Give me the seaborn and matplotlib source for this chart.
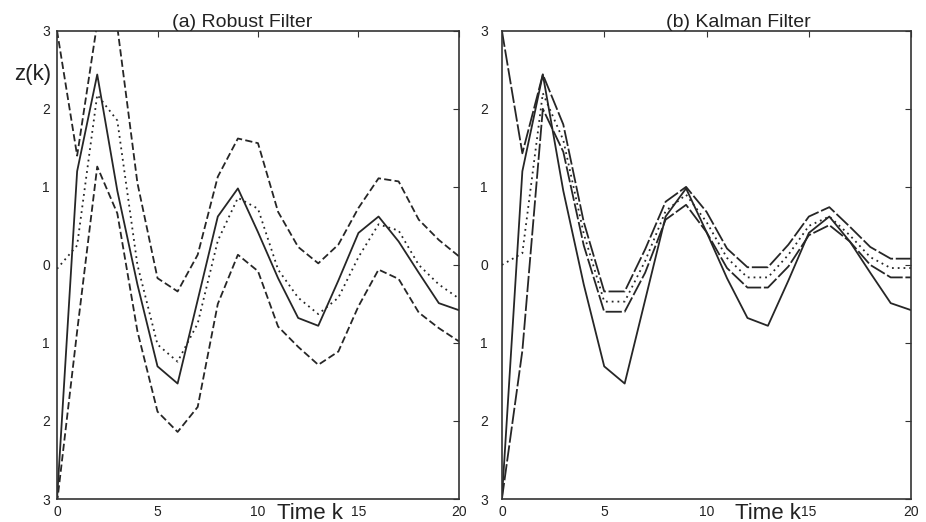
import numpy as np
import pandas as pd
import seaborn as sns
import matplotlib
matplotlib.use("Agg")
import matplotlib.pyplot as plt

sns.set_theme(style="white")
plt.rcParams["font.family"] = ["Liberation Sans", "DejaVu Sans"]

# time axis
k = list(range(21))

# true state z(k) (same in both panels)
z_true = [-3.0, 1.2, 2.44, 0.95, -0.25, -1.3, -1.52, -0.45, 0.62, 0.98, 0.42,
          -0.17, -0.68, -0.78, -0.2, 0.41, 0.62, 0.3, -0.1, -0.49, -0.58]

# (a) robust filter: estimate and bounds
rob_est = [-0.05, 0.25, 2.18, 1.85, 0.0, -1.02, -1.24, -0.75, 0.31, 0.86, 0.72,
           -0.06, -0.42, -0.63, -0.42, 0.1, 0.52, 0.44, 0.0, -0.25, -0.43]
rob_upper = [3.0, 1.4, 3.1, 3.05, 1.05, -0.17, -0.34, 0.13, 1.13, 1.62, 1.56,
             0.68, 0.23, 0.02, 0.26, 0.73, 1.11, 1.07, 0.58, 0.32, 0.11]
rob_lower = [-3.05, -0.85, 1.26, 0.66, -0.85, -1.88, -2.14, -1.82, -0.5, 0.13, -0.08,
             -0.79, -1.05, -1.28, -1.11, -0.53, -0.06, -0.18, -0.61, -0.81, -0.98]

# (b) kalman filter: estimate and bounds
kal_est = [0.0, 0.15, 2.2, 1.6, 0.4, -0.47, -0.47, 0.05, 0.69, 0.9, 0.55,
           0.09, -0.16, -0.16, 0.13, 0.5, 0.62, 0.38, 0.1, -0.04, -0.04]
kal_upper = [3.0, 1.43, 2.44, 1.8, 0.55, -0.34, -0.34, 0.2, 0.81, 1.0, 0.68,
             0.21, -0.03, -0.03, 0.26, 0.62, 0.74, 0.49, 0.23, 0.08, 0.08]
kal_lower = [-3.0, -1.1, 2.0, 1.45, 0.25, -0.6, -0.6, -0.1, 0.58, 0.77, 0.42,
             -0.04, -0.29, -0.29, -0.02, 0.38, 0.51, 0.3, 0.0, -0.16, -0.16]

yticks = [-3, -2, -1, 0, 1, 2, 3]
ytick_labels = ["3", "2", "1", "0", "1", "2", "3"]   # minus signs lost in the scan
xticks = [0, 5, 10, 15, 20]
titles = ["(a) Robust Filter", "(b) Kalman Filter"]


def long_df(est, upper, lower):
    parts = []
    for name, vals in [("true", z_true), ("est", est), ("upper", upper), ("lower", lower)]:
        parts.append(pd.DataFrame({"k": k, "z": vals, "series": name}))
    return pd.concat(parts, ignore_index=True)


fig = plt.figure(figsize=(9.26, 5.22), dpi=100)
fig.patch.set_facecolor("white")
ax1 = fig.add_axes([0.0616, 0.044, 0.434, 0.897])
ax2 = fig.add_axes([0.542, 0.044, 0.442, 0.897])

line_col = "#262626"
panels = [
    (ax1, long_df(rob_est, rob_upper, rob_lower), {"true": "", "est": (1, 2.2), "upper": (4, 1.8), "lower": (4, 1.8)}),
    (ax2, long_df(kal_est, kal_upper, kal_lower), {"true": "", "est": (1, 2.2), "upper": (9, 1.5), "lower": (9, 1.5)}),
]

for i, (ax, df, dash_map) in enumerate(panels):
    sns.lineplot(data=df, x="k", y="z", style="series", dashes=dash_map,
                 color=line_col, linewidth=1.3, legend=False, ax=ax, sort=False)
    ax.set_xlim(0, 20)
    ax.set_ylim(-3, 3)
    ax.set_xticks(xticks)
    ax.set_yticks(yticks)
    ax.set_yticklabels(ytick_labels)
    ax.tick_params(direction="in", top=True, right=True, length=4, width=0.8,
                   labelsize=10, labelcolor="#222222", color="#333333")
    ax.tick_params(axis="x", pad=4)
    for sp in ax.spines.values():
        sp.set_color("#333333")
        sp.set_linewidth(1.2)
    ax.set_ylabel("")
    ax.set_xlabel("Time k", fontsize=16, color="#222222")

ax1.tick_params(axis="y", pad=5)
ax2.tick_params(axis="y", pad=10)

ax1.xaxis.set_label_coords(0.63, -0.008)
ax2.xaxis.set_label_coords(0.65, -0.008)

ax1.set_title(titles[0], fontsize=14, x=0.46, pad=3, color="#222222")
ax2.set_title(titles[1], fontsize=14, x=0.577, pad=3, color="#222222")

ax1.text(-0.06, 0.906, "z(k)", transform=ax1.transAxes, ha="center", va="center",
         fontsize=16, color="#222222")

plt.savefig("out.png", dpi=100, facecolor="white")
